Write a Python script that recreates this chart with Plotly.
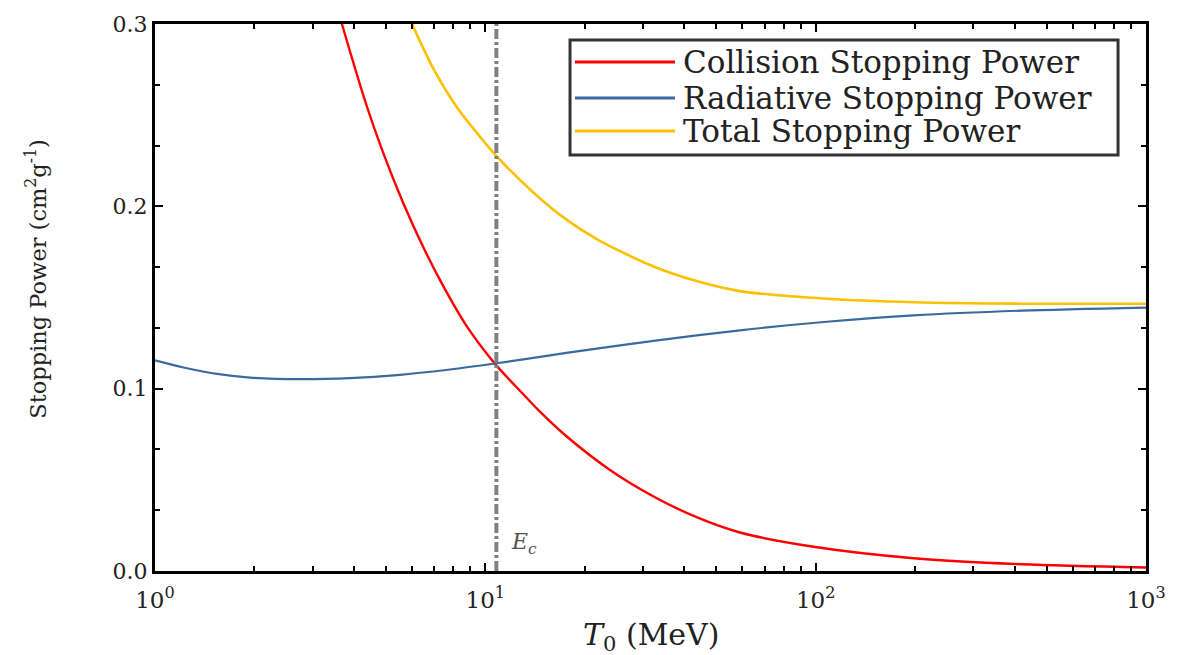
import plotly.graph_objects as go

# ---- data ----
coll_T = [3.5, 3.68, 4.37, 4.91, 5.65, 6.49, 7.46, 8.78, 10.7, 13.0, 14.5, 17.6, 23.9, 32.3, 43.6, 59.0, 98.6, 198.0, 421.0, 1000.0]
coll_S = [0.314, 0.300, 0.2553, 0.2292, 0.2016, 0.1776, 0.1562, 0.1343, 0.1136, 0.0971, 0.0881, 0.0739, 0.0553, 0.0409, 0.0295, 0.0211, 0.0133, 0.0070, 0.0037, 0.0019]

rad_T = [1.0, 1.22, 1.54, 1.94, 2.75, 3.89, 5.52, 7.82, 10.7, 17.6, 32.3, 59.0, 108.0, 198.0, 421.0, 1000.0]
rad_S = [0.1155, 0.1116, 0.1081, 0.1061, 0.1052, 0.1058, 0.1076, 0.1105, 0.1138, 0.1196, 0.1262, 0.1320, 0.1367, 0.1402, 0.1428, 0.1445]

tot_T = [5.8, 6.0, 6.96, 8.19, 9.86, 10.8, 14.0, 17.6, 22.0, 32.3, 43.6, 59.0, 108.0, 198.0, 421.0, 1000.0]
tot_S = [0.306, 0.300, 0.2755, 0.2545, 0.236, 0.2276, 0.2075, 0.1927, 0.1815, 0.167, 0.159, 0.1535, 0.1493, 0.1474, 0.1466, 0.1466]

Ec = 10.8
series_names = ["Collision Stopping Power", "Radiative Stopping Power", "Total Stopping Power"]
series_colors = ["#FF0000", "#3A6A9E", "#FFC000"]

x_tickvals = [1, 10, 100, 1000]
x_ticktext = ["10<sup>0</sup>", "10<sup>1</sup>", "10<sup>2</sup>", "10<sup>3</sup>"]
x_minorvals = [m * d for d in (1, 10, 100) for m in range(2, 10)]
y_tickvals = [0.0, 0.1, 0.2, 0.3]
y_ticktext = ["0.0", "0.1", "0.2", "0.3"]

FONT = "DejaVu Serif, serif"
TXT = "#222222"

fig = go.Figure()
for T, S, nm, col, w in zip([coll_T, rad_T, tot_T], [coll_S, rad_S, tot_S], series_names, series_colors, [2.4, 2.2, 2.6]):
    fig.add_trace(go.Scatter(x=T, y=S, mode="lines", name=nm, showlegend=False,
                             line=dict(color=col, width=w, shape="spline", smoothing=0.8)))
fig.add_trace(go.Scatter(x=[Ec, Ec], y=[0, 0.3], mode="lines", showlegend=False,
                         line=dict(color="#808080", width=4, dash="10px,3px,3px,3px")))

axis_common = dict(showline=True, linecolor="black", linewidth=3, mirror="ticks",
                   ticks="inside", ticklen=8, tickwidth=2, tickcolor="black",
                   showgrid=False, zeroline=False)

fig.update_xaxes(type="log", range=[0, 3], tickvals=x_tickvals, ticktext=x_ticktext,
                 ticklabelstandoff=6, tickfont=dict(family=FONT, size=23, color=TXT),
                 minor=dict(ticks="inside", ticklen=5, tickcolor="black", tickwidth=1.5,
                            tickvals=x_minorvals, showgrid=False),
                 **axis_common)
fig.update_yaxes(range=[0, 0.3], tickvals=y_tickvals, ticktext=y_ticktext,
                 tickfont=dict(family=FONT, size=22, color=TXT),
                 minor=dict(ticks="inside", ticklen=5, tickcolor="black", tickwidth=1.5, dtick=0.1 / 3, showgrid=False),
                 **axis_common)

# axis titles (placed as in the reference)
fig.add_annotation(x=0.5, y=(571.3 - 637) / 547, xref="paper", yref="paper", showarrow=False,
                   text="<i>T</i><sub>0</sub> (MeV)", font=dict(family=FONT, size=30, color=TXT),
                   yanchor="middle")
fig.add_annotation(x=(36 - 155) / 991, y=(571.3 - 279) / 547, xref="paper", yref="paper", showarrow=False,
                   textangle=-90, xanchor="center", yanchor="middle",
                   text="Stopping Power (cm<sup>2</sup>g<sup>-1</sup>)", font=dict(family=FONT, size=22.5, color=TXT))

# E_c label
fig.add_annotation(x=0.372, y=0.02, xref="paper", yref="paper", showarrow=False,
                   text="<i>E</i><sub><i>c</i></sub>", font=dict(family=FONT, size=22, color="#555555"))

# legend box (drawn to match the reference's boxed legend)
fig.add_shape(type="rect", xref="paper", yref="paper", x0=0.4188, x1=0.9718, y0=0.7605, y1=0.9707,
              line=dict(color="#333333", width=3), fillcolor="white", layer="above")
row_y = [0.9305, 0.8647, 0.8044]
for nm, col, yy in zip(series_names, series_colors, row_y):
    fig.add_shape(type="line", xref="paper", yref="paper", x0=0.4238, x1=0.5247, y0=yy, y1=yy,
                  line=dict(color=col, width=3), layer="above")
    fig.add_annotation(x=0.5308, y=yy, xref="paper", yref="paper", xanchor="left", yanchor="middle",
                       showarrow=False, text=nm, font=dict(family=FONT, size=31, color=TXT))

fig.update_layout(
    width=1177, height=655,
    margin=dict(l=155, r=31, t=24, b=84),
    plot_bgcolor="white", paper_bgcolor="white",
    showlegend=False,
)

fig.write_html("out.html")
